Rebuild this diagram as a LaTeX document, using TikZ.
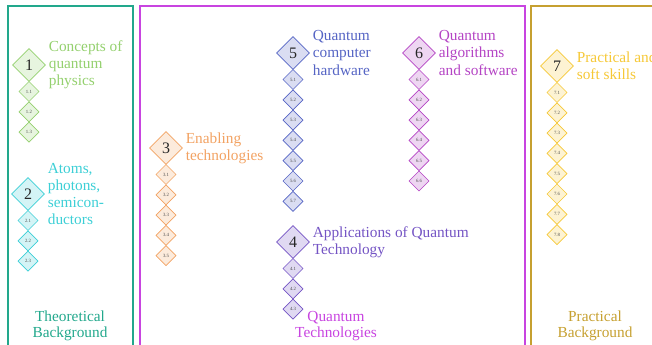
\documentclass[tikz,border=0pt]{standalone}
\usepackage{fontspec}
\setmainfont{Liberation Serif}
\usetikzlibrary{shapes.geometric}

\definecolor{cgreen}{HTML}{94D06E}
\definecolor{ccyan}{HTML}{3CCFD6}
\definecolor{corange}{HTML}{F2A262}
\definecolor{cblue}{HTML}{5564C4}
\definecolor{cpurple}{HTML}{B444C4}
\definecolor{cviolet}{HTML}{7454C4}
\definecolor{cyellow}{HTML}{F6C836}
\definecolor{cteal}{HTML}{22A88C}
\definecolor{cmagenta}{HTML}{C844E0}
\definecolor{cgold}{HTML}{C6A030}

\tikzset{
	topic/.style={diamond, draw=#1, fill=#1!22, line width=0.6pt, inner sep=0pt,
		minimum size=24.75pt, text=black!85, font=\fontsize{12}{12}\selectfont},
	sub/.style={diamond, draw=#1, fill=#1!22, line width=0.5pt, inner sep=0pt,
		minimum size=15.2pt, text=black!70, font=\fontsize{3.6}{4}\selectfont},
	topictext/.style={anchor=west, align=left, inner sep=2pt, text=#1,
		font=\fontsize{11.5}{12.8}\selectfont},
	area/.style={draw=#1, line width=1pt},
	areatext/.style={align=center, inner sep=0pt, text=#1,
		font=\fontsize{11.5}{12.2}\selectfont}
}

\begin{document}
\begin{tikzpicture}[x=0.75pt, y=-0.75pt]
	\useasboundingbox (0, 0) rectangle (652, 345);

	\coordinate (T) at (70, 326);
	\coordinate (Q) at (336, 326);
	\coordinate (P) at (595, 326);

	\draw[area=cteal] (8, 6) rectangle (133, 360);
	\draw[area=cmagenta] (140, 6) rectangle (525, 360);
	\draw[area=cgold] (531, 6) rectangle (670, 360);

	\node[areatext=cteal] (lT) at (T) {Theoretical\\Background};
	\node[areatext=cmagenta] (lQ) at (Q) {Quantum\\Technologies};
	\node[areatext=cgold] (lP) at (P) {Practical\\Background};

	\node[topic=cgreen] (d1) at (29, 65) {1};
	\node[sub=cgreen] (d11) at (29, 91.5) {1.1};
	\node[sub=cgreen] (d12) at (29, 111.8) {1.2};
	\node[sub=cgreen] (d13) at (29, 132.1) {1.3};
	\node[topictext=cgreen] (t1) at (d1.east) {Concepts of\\quantum\\physics};

	\node[topic=ccyan] (d2) at (28, 194) {2};
	\node[sub=ccyan] (d21) at (28, 220.5) {2.1};
	\node[sub=ccyan] (d22) at (28, 240.8) {2.2};
	\node[sub=ccyan] (d23) at (28, 261.1) {2.3};
	\node[topictext=ccyan] (t2) at (d2.east) {Atoms,\\photons,\\semicon-\\ductors};

	\node[topic=corange] (d3) at (166, 148) {3};
	\node[sub=corange] (d31) at (166, 174.5) {3.1};
	\node[sub=corange] (d32) at (166, 194.8) {3.2};
	\node[sub=corange] (d33) at (166, 215.1) {3.3};
	\node[sub=corange] (d34) at (166, 235.4) {3.4};
	\node[sub=corange] (d35) at (166, 255.7) {3.5};
	\node[topictext=corange] (t3) at (d3.east) {Enabling\\technologies};

	\node[topic=cblue] (d5) at (293, 53) {5};
	\node[sub=cblue] (d51) at (293, 79.5) {5.1};
	\node[sub=cblue] (d52) at (293, 99.8) {5.2};
	\node[sub=cblue] (d53) at (293, 120.1) {5.3};
	\node[sub=cblue] (d54) at (293, 140.4) {5.4};
	\node[sub=cblue] (d55) at (293, 160.7) {5.5};
	\node[sub=cblue] (d56) at (293, 181) {5.6};
	\node[sub=cblue] (d57) at (293, 201.3) {5.7};
	\node[topictext=cblue] (t5) at (d5.east) {Quantum\\computer\\hardware};

	\node[topic=cpurple] (d6) at (419, 53) {6};
	\node[sub=cpurple] (d61) at (419, 79.5) {6.1};
	\node[sub=cpurple] (d62) at (419, 99.8) {6.2};
	\node[sub=cpurple] (d63) at (419, 120.1) {6.3};
	\node[sub=cpurple] (d64) at (419, 140.4) {6.4};
	\node[sub=cpurple] (d65) at (419, 160.7) {6.5};
	\node[sub=cpurple] (d66) at (419, 181) {6.6};
	\node[topictext=cpurple] (t6) at (d6.east) {Quantum\\algorithms\\and software};

	\node[topic=cviolet] (d4) at (293, 242) {4};
	\node[sub=cviolet] (d41) at (293, 268.5) {4.1};
	\node[sub=cviolet] (d42) at (293, 288.8) {4.2};
	\node[sub=cviolet] (d43) at (293, 309.1) {4.3};
	\node[topictext=cviolet] (t4) at (d4.east) {Applications of Quantum\\Technology};

	\node[topic=cyellow] (d7) at (557, 66) {7};
	\node[sub=cyellow] (d71) at (557, 92.5) {7.1};
	\node[sub=cyellow] (d72) at (557, 112.8) {7.2};
	\node[sub=cyellow] (d73) at (557, 133.1) {7.3};
	\node[sub=cyellow] (d74) at (557, 153.4) {7.4};
	\node[sub=cyellow] (d75) at (557, 173.7) {7.5};
	\node[sub=cyellow] (d76) at (557, 194) {7.6};
	\node[sub=cyellow] (d77) at (557, 214.3) {7.7};
	\node[sub=cyellow] (d78) at (557, 234.6) {7.8};
	\node[topictext=cyellow] (t7) at (d7.east) {Practical and\\soft skills};
\end{tikzpicture}
\end{document}
